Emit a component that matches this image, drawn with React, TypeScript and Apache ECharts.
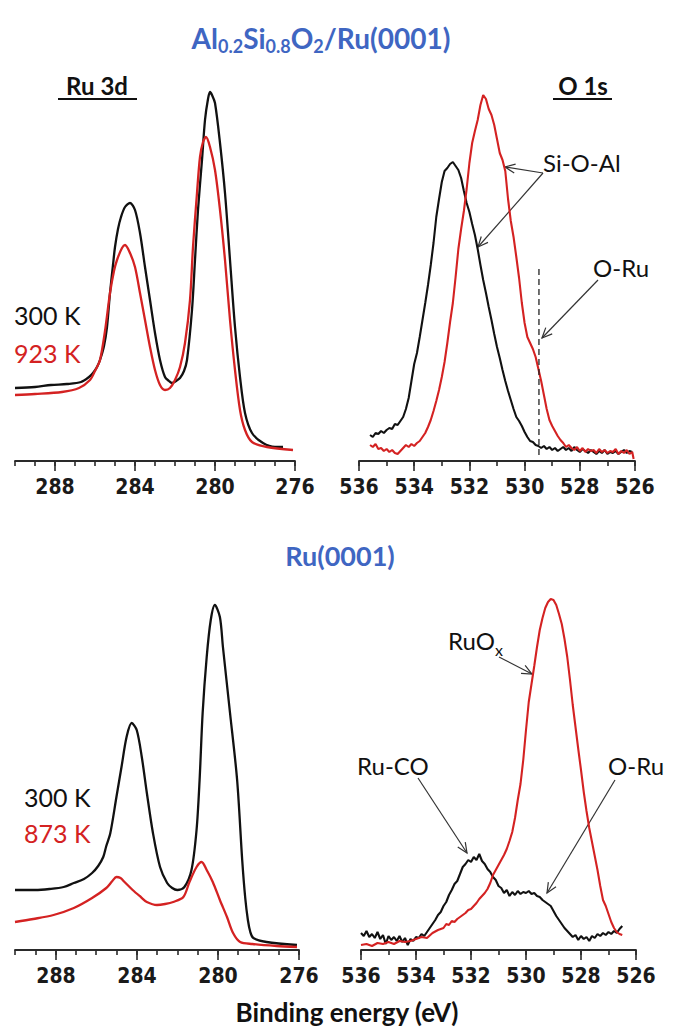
import React, { useEffect, useRef } from "react";
import * as echarts from "echarts";

// ---------- DATA (binding energy eV, intensity in arbitrary units) ----------
const RU3D_TOP_300K: [number, number][] = [[290.0,73],[289.0,74],[288.2,76],[287.4,77],[286.7,79],[286.3,84],[286.1,88],[285.9,94],[285.75,101],[285.55,115],[285.4,134],[285.25,168],[285.1,196],[285.0,214],[284.85,232],[284.7,244],[284.5,254],[284.25,258],[284.0,251],[283.75,228],[283.5,194],[283.25,161],[283.0,128],[282.75,101],[282.5,84],[282.3,80],[282.15,78],[281.95,80],[281.75,83],[281.55,90],[281.4,101],[281.15,151],[281.0,201],[280.85,251],[280.65,301],[280.5,341],[280.35,362],[280.25,369],[280.15,366],[280.0,358],[279.75,318],[279.5,268],[279.25,201],[279.0,134],[278.75,84],[278.5,48],[278.15,28],[277.6,18],[277.0,14],[276.6,14]];
const RU3D_TOP_923K: [number, number][] = [[290.0,66],[289.0,67],[287.65,69],[286.8,73],[286.25,81],[286.0,90],[285.75,101],[285.5,130],[285.25,168],[285.05,190],[284.9,201],[284.65,213],[284.5,216],[284.25,208],[284.0,194],[283.75,168],[283.5,141],[283.25,114],[283.0,91],[282.75,76],[282.5,71],[282.25,73],[282.0,81],[281.75,94],[281.5,118],[281.25,161],[281.1,214],[280.9,268],[280.75,304],[280.6,319],[280.45,324],[280.25,314],[280.0,291],[279.75,251],[279.5,201],[279.25,141],[279.0,91],[278.75,51],[278.5,31],[278.15,19],[277.4,14],[276.1,11]];
const O1S_TOP_300K: [number, number][] = [[535.6,26],[535.5,24],[535.4,28],[535.3,27],[535.2,30],[535.1,28],[535.0,31],[534.9,33],[534.8,32],[534.7,37],[534.6,36],[534.5,40],[534.4,44],[534.3,52],[534.2,63],[534.1,80],[534.0,97],[533.9,108],[533.8,124],[533.7,141],[533.6,158],[533.5,176],[533.4,196],[533.3,218],[533.2,244],[533.1,262],[533.0,279],[532.9,290],[532.8,293],[532.7,297],[532.6,299],[532.5,295],[532.4,291],[532.3,283],[532.2,270],[532.1,258],[532.0,249],[531.9,237],[531.8,226],[531.7,212],[531.6,196],[531.5,181],[531.4,168],[531.3,154],[531.2,141],[531.1,127],[531.0,114],[530.9,103],[530.8,91],[530.7,80],[530.6,70],[530.5,61],[530.4,52],[530.3,44],[530.2,40],[530.1,35],[530.0,29],[529.9,24],[529.8,20],[529.7,19],[529.6,16],[529.5,15],[529.4,13],[529.3,15],[529.2,12],[529.1,14],[529.0,11],[528.9,13],[528.8,10],[528.7,12],[528.6,14],[528.5,11],[528.4,13],[528.3,10],[528.2,14],[528.1,11],[528.0,9],[527.9,12],[527.8,10],[527.7,8],[527.6,11],[527.5,9],[527.4,7],[527.3,10],[527.2,8],[527.1,11],[527.0,7],[526.9,9],[526.8,8],[526.7,10],[526.6,7],[526.5,9],[526.4,11],[526.3,8],[526.2,10],[526.1,9]];
const O1S_TOP_923K: [number, number][] = [[535.6,16],[535.5,14],[535.4,17],[535.3,12],[535.2,13],[535.1,10],[535.0,12],[534.9,9],[534.8,11],[534.7,8],[534.6,7],[534.5,10],[534.4,13],[534.3,16],[534.2,14],[534.1,17],[534.0,15],[533.9,18],[533.8,20],[533.7,24],[533.6,28],[533.5,34],[533.4,41],[533.3,50],[533.2,60],[533.1,71],[533.0,84],[532.9,99],[532.8,118],[532.7,139],[532.6,158],[532.5,184],[532.4,212],[532.3,232],[532.2,250],[532.1,272],[532.0,298],[531.9,318],[531.8,330],[531.7,341],[531.6,356],[531.5,366],[531.4,362],[531.3,352],[531.2,346],[531.1,336],[531.0,322],[530.9,308],[530.8,301],[530.7,290],[530.6,262],[530.5,240],[530.4,224],[530.3,204],[530.2,183],[530.1,158],[530.0,138],[529.9,124],[529.8,118],[529.7,112],[529.6,104],[529.5,92],[529.4,80],[529.3,66],[529.2,52],[529.1,41],[529.0,35],[528.9,30],[528.8,25],[528.7,21],[528.6,18],[528.5,14],[528.4,16],[528.3,13],[528.2,11],[528.1,14],[528.0,10],[527.9,13],[527.8,9],[527.7,12],[527.6,10],[527.5,11],[527.4,8],[527.3,12],[527.2,9],[527.1,11],[527.0,8],[526.9,10],[526.8,9],[526.7,12],[526.6,7],[526.5,10],[526.4,8],[526.3,11],[526.2,7],[526.1,9],[526.05,2]];
const O_RU_MARK: [number, number][] = [[529.48, 6], [529.48, 196]];

const RU3D_BOT_300K: [number, number][] = [[290.0,60],[289.0,60],[288.3,61],[287.6,63],[287.1,67],[286.6,71],[286.2,77],[285.9,84],[285.65,93],[285.5,104],[285.3,117],[285.0,153],[284.75,183],[284.5,213],[284.25,227],[284.0,220],[283.75,193],[283.5,157],[283.2,117],[282.85,83],[282.5,67],[282.25,62],[282.0,60],[281.65,63],[281.3,80],[281.05,120],[280.9,170],[280.75,237],[280.55,293],[280.35,330],[280.15,345],[279.9,333],[279.75,303],[279.4,237],[279.05,170],[278.8,90],[278.65,52],[278.52,30],[278.4,18],[278.25,12],[277.6,8],[276.1,5]];
const RU3D_BOT_873K: [number, number][] = [[290.0,28],[289.1,31],[288.1,35],[287.1,42],[286.2,52],[285.5,62],[285.2,69],[285.0,73],[284.8,72],[284.6,68],[284.2,60],[283.8,53],[283.5,48],[283.0,45],[282.6,46],[282.2,48],[281.7,53],[281.4,68],[281.05,83],[280.8,88],[280.55,80],[280.25,68],[279.9,50],[279.55,33],[279.25,17],[278.9,8],[278.3,6],[277.1,4],[276.1,3]];
const O1S_BOT_300K: [number, number][] = [[536.0,17],[535.9,14],[535.8,19],[535.7,13],[535.6,16],[535.5,12],[535.4,18],[535.3,11],[535.2,15],[535.1,6],[535.0,14],[534.9,10],[534.8,13],[534.7,9],[534.6,14],[534.5,8],[534.4,12],[534.3,5],[534.2,11],[534.1,9],[534.0,13],[533.9,12],[533.8,16],[533.7,14],[533.6,18],[533.5,22],[533.4,26],[533.3,30],[533.2,35],[533.1,38],[533.0,44],[532.9,48],[532.8,55],[532.7,60],[532.6,66],[532.5,69],[532.4,76],[532.3,83],[532.2,86],[532.1,90],[532.0,88],[531.9,93],[531.8,90],[531.7,96],[531.6,89],[531.5,86],[531.4,81],[531.3,78],[531.2,73],[531.1,70],[531.0,64],[530.9,62],[530.8,57],[530.7,60],[530.6,54],[530.5,58],[530.4,55],[530.3,59],[530.2,56],[530.1,58],[530.0,57],[529.9,59],[529.8,56],[529.7,57],[529.6,54],[529.5,53],[529.4,50],[529.3,48],[529.2,46],[529.1,44],[529.0,39],[528.9,34],[528.8,30],[528.7,26],[528.6,22],[528.5,19],[528.4,16],[528.3,13],[528.2,15],[528.1,10],[528.0,14],[527.9,11],[527.8,13],[527.7,9],[527.6,14],[527.5,12],[527.4,16],[527.3,14],[527.2,17],[527.1,15],[527.0,18],[526.9,16],[526.8,19],[526.7,17],[526.6,21],[526.5,24]];
const O1S_BOT_873K: [number, number][] = [[536.0,5],[535.8,6],[535.6,4],[535.4,7],[535.2,6],[535.0,8],[534.8,6],[534.6,9],[534.4,8],[534.2,9],[534.0,11],[533.8,13],[533.6,12],[533.4,17],[533.2,20],[533.0,22],[532.9,26],[532.8,25],[532.7,29],[532.6,28],[532.5,31],[532.4,33],[532.3,35],[532.2,37],[532.1,40],[532.0,41],[531.9,44],[531.8,47],[531.7,51],[531.6,54],[531.5,57],[531.4,61],[531.3,67],[531.2,75],[531.1,80],[531.0,85],[530.9,90],[530.8,95],[530.7,101],[530.6,109],[530.5,118],[530.4,132],[530.3,150],[530.2,166],[530.1,190],[530.0,220],[529.9,248],[529.8,266],[529.7,284],[529.6,303],[529.5,320],[529.4,332],[529.3,342],[529.2,348],[529.1,351],[529.0,350],[528.9,345],[528.8,336],[528.7,326],[528.6,311],[528.5,293],[528.4,270],[528.3,245],[528.2,223],[528.1,201],[528.0,180],[527.9,158],[527.8,139],[527.7,122],[527.6,108],[527.5,94],[527.4,80],[527.3,64],[527.2,50],[527.1,44],[527.0,36],[526.9,28],[526.8,22],[526.7,18],[526.6,16],[526.5,15]];

const RU_RANGE = [276, 290];
const O_RANGE = [526, 536];

// ---------- STYLE ----------
const BLACK = "#111111";
const RED = "#d42222";
const BLUE = "#3f66c2";
const AXIS = "#2a2a2a";
const TXT_FONT = "Lato, 'Open Sans', sans-serif";
const AX_FONT = "'Liberation Sans Narrow', 'DejaVu Sans Condensed', 'Liberation Sans', sans-serif";

function arrow(x1: number, y1: number, x2: number, y2: number) {
  const ang = Math.atan2(y2 - y1, x2 - x1);
  const L = 11, a = 0.42;
  const p1 = [x2 - L * Math.cos(ang - a), y2 - L * Math.sin(ang - a)];
  const p2 = [x2 - L * Math.cos(ang + a), y2 - L * Math.sin(ang + a)];
  return [
    { type: "line", shape: { x1, y1, x2, y2 }, style: { stroke: "#333", lineWidth: 1.2 } },
    { type: "polyline", shape: { points: [p1, [x2, y2], p2] }, style: { stroke: "#333", lineWidth: 1.2, fill: null } },
  ];
}

function txt(text: string, x: number, y: number, opts: any = {}) {
  return {
    type: "text",
    x,
    y,
    style: {
      text,
      fill: opts.fill || "#111",
      fontSize: opts.fontSize || 24,
      fontWeight: opts.fontWeight || "normal",
      fontFamily: opts.fontFamily || TXT_FONT,
      align: opts.align || "left",
      verticalAlign: "middle",
    },
  };
}

export default function App() {
  const ref = useRef<HTMLDivElement>(null);
  useEffect(() => {
    if (!ref.current) return;
    const chart = echarts.init(ref.current, null, { renderer: "svg" });

    const grids = [
      { left: 15, top: 80, width: 280, height: 381 }, // 0 TL
      { left: 359, top: 80, width: 276, height: 381 }, // 1 TR
      { left: 15, top: 580, width: 284, height: 370 }, // 2 BL
      { left: 361, top: 580, width: 275, height: 370 }, // 3 BR
      { left: 55, top: 80, width: 240, height: 381 }, // 4 TL major
      { left: 359, top: 80, width: 276, height: 381 }, // 5 TR major
      { left: 56, top: 580, width: 243, height: 370 }, // 6 BL major
      { left: 361, top: 580, width: 275, height: 370 }, // 7 BR major
    ];

    const minorAxis = (gi: number, range: number[]) => ({
      type: "value",
      gridIndex: gi,
      inverse: true,
      min: range[0],
      max: range[1],
      interval: 1,
      splitLine: { show: false },
      axisLine: { show: true, lineStyle: { color: AXIS, width: 1.8 } },
      axisTick: { show: true, length: 5, lineStyle: { color: AXIS, width: 1.6 } },
      axisLabel: { show: false },
    });
    const majorAxis = (gi: number, min: number, max: number, interval: number) => ({
      type: "value",
      gridIndex: gi,
      inverse: true,
      min,
      max,
      interval,
      splitLine: { show: false },
      axisLine: { show: false },
      axisTick: { show: true, length: 10, lineStyle: { color: AXIS, width: 1.6 } },
      axisLabel: {
        show: true,
        color: "#1a1a1a",
        fontSize: 21,
        fontWeight: "bold",
        fontFamily: AX_FONT,
        margin: 15,
      },
    });

    const xAxis = [
      minorAxis(0, RU_RANGE),
      minorAxis(1, O_RANGE),
      minorAxis(2, RU_RANGE),
      minorAxis(3, O_RANGE),
      majorAxis(4, 276, 288, 4),
      majorAxis(5, 526, 536, 2),
      majorAxis(6, 276, 288, 4),
      majorAxis(7, 526, 536, 2),
    ];
    const yAxis = grids.map((g, i) => ({
      type: "value",
      gridIndex: i,
      min: 0,
      max: g.height,
      show: false,
    }));

    const ln = (data: any, gi: number, color: string, smooth: number | boolean = false, width = 2.3) => ({
      type: "line",
      xAxisIndex: gi,
      yAxisIndex: gi,
      data,
      showSymbol: false,
      symbol: "none",
      smooth,
      lineStyle: { color, width },
      silent: true,
    });

    const series = [
      ln(RU3D_TOP_300K, 0, BLACK, 0.3),
      ln(RU3D_TOP_923K, 0, RED, 0.3),
      ln(O1S_TOP_300K, 1, BLACK, false, 2.1),
      ln(O1S_TOP_923K, 1, RED, false, 2.1),
      {
        type: "line",
        xAxisIndex: 1,
        yAxisIndex: 1,
        data: O_RU_MARK,
        showSymbol: false,
        symbol: "none",
        lineStyle: { color: "#222", width: 1.3, type: [6, 4] },
        silent: true,
      },
      ln(RU3D_BOT_300K, 2, BLACK, 0.3),
      ln(RU3D_BOT_873K, 2, RED, 0.3),
      ln(O1S_BOT_300K, 3, BLACK, false, 2.1),
      ln(O1S_BOT_873K, 3, RED, false, 2.1),
    ];

    const subRich = (base: number, color: string, weight: string) => ({
      m: { fontSize: base, fontWeight: weight, fontFamily: TXT_FONT, fill: color, color, lineHeight: 34, verticalAlign: "middle" },
      s: { fontSize: Math.round(base * 0.65), fontWeight: weight, fontFamily: TXT_FONT, fill: color, color, lineHeight: 12, verticalAlign: "bottom" },
    });

    const graphic: any[] = [
      {
        type: "text",
        x: 321,
        y: 38,
        style: {
          text: "{m|Al}{s|0.2}{m|Si}{s|0.8}{m|O}{s|2}{m|/Ru(0001)}",
          fill: BLUE,
          align: "center",
          verticalAlign: "middle",
          rich: subRich(28, BLUE, "bold"),
        },
      },
      txt("Ru(0001)", 340, 555, { fill: BLUE, fontSize: 27, fontWeight: "bold", align: "center" }),
      txt("Ru 3d", 97, 85, { fontSize: 24, fontWeight: "bold", align: "center" }),
      { type: "line", shape: { x1: 58, y1: 99, x2: 137, y2: 99 }, style: { stroke: "#111", lineWidth: 2 } },
      txt("O 1s", 583, 85, { fontSize: 24, fontWeight: "bold", align: "center" }),
      { type: "line", shape: { x1: 553, y1: 99, x2: 612, y2: 99 }, style: { stroke: "#111", lineWidth: 2 } },
      txt("300 K", 14, 315, { fontSize: 25 }),
      txt("923 K", 14, 353, { fontSize: 25, fill: RED }),
      txt("300 K", 24, 797, { fontSize: 25 }),
      txt("873 K", 24, 833, { fontSize: 25, fill: RED }),
      txt("Si-O-Al", 543, 162, { fontSize: 24 }),
      txt("O-Ru", 593, 267, { fontSize: 24 }),
      {
        type: "text",
        x: 448,
        y: 640,
        style: {
          text: "{m|RuO}{s|x}",
          fill: "#111",
          align: "left",
          verticalAlign: "middle",
          rich: subRich(24, "#111", "normal"),
        },
      },
      txt("Ru-CO", 357, 765, { fontSize: 24 }),
      txt("O-Ru", 608, 765, { fontSize: 24 }),
      txt("Binding energy (eV)", 347, 1012, { fontSize: 26, fontWeight: "bold", align: "center" }),
      ...arrow(543, 173, 505, 167),
      ...arrow(543, 173, 478, 247),
      ...arrow(598, 280, 542, 338),
      ...arrow(499, 657, 532, 674),
      ...arrow(418, 778, 467, 853),
      ...arrow(615, 780, 547, 893),
    ];

    chart.setOption({
      animation: false,
      backgroundColor: "#ffffff",
      grid: grids.map((g) => ({ ...g, containLabel: false })),
      xAxis,
      yAxis,
      series,
      graphic,
    });
    return () => chart.dispose();
  }, []);
  return (
    <div
      ref={ref}
      style={{ position: "absolute", left: 0, top: 0, width: 678, height: 1033, background: "#fff" }}
    />
  );
}
